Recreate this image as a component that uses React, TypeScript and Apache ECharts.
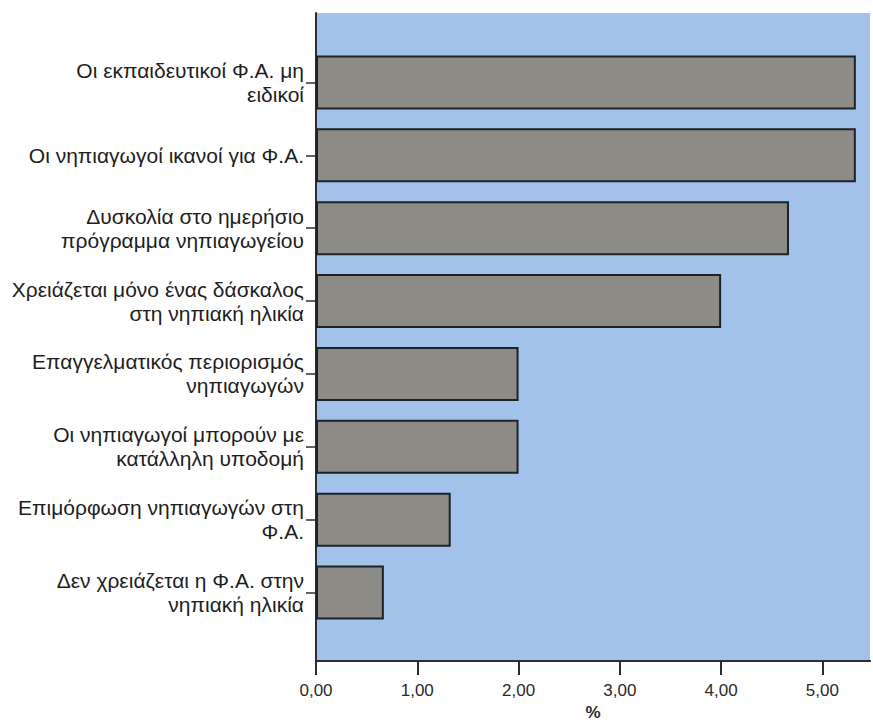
import React, { useEffect, useRef } from "react";
import * as echarts from "echarts";

const categories = [
  "Οι εκπαιδευτικοί Φ.Α. μη\nειδικοί",
  "Οι νηπιαγωγοί ικανοί για Φ.Α.",
  "Δυσκολία στο ημερήσιο\nπρόγραμμα νηπιαγωγείου",
  "Χρειάζεται μόνο ένας δάσκαλος\nστη νηπιακή ηλικία",
  "Επαγγελματικός περιορισμός\nνηπιαγωγών",
  "Οι νηπιαγωγοί μπορούν με\nκατάλληλη υποδομή",
  "Επιμόρφωση νηπιαγωγών στη\nΦ.Α.",
  "Δεν χρειάζεται η Φ.Α. στην\nνηπιακή ηλικία",
];
const values = [5.33, 5.33, 4.67, 4.0, 2.0, 2.0, 1.33, 0.67];
const axisName = "%";

const FONT = "'Liberation Sans', Arial, sans-serif";

export default function App() {
  const ref = useRef<HTMLDivElement>(null);
  useEffect(() => {
    document.body.style.margin = "0";
    const chart = echarts.init(ref.current!, null, { renderer: "svg" });
    chart.setOption({
      animation: false,
      backgroundColor: "#ffffff",
      grid: [
        { left: 316, right: 3, top: 46, bottom: 92, show: false, outerBoundsMode: "none", containLabel: false },
        {
          left: 316, right: 3, top: 13, bottom: 60, show: true, outerBoundsMode: "none", containLabel: false,
          backgroundColor: "#a3c2ea", borderWidth: 0, z: 0,
        },
      ],
      xAxis: [
        {
          type: "value", gridIndex: 0, min: 0, max: 5.47, interval: 1,
          offset: 32,
          position: "bottom",
          axisLine: { show: true, onZero: false, lineStyle: { color: "#2a2e33", width: 2 } },
          axisTick: { show: true, length: 14, lineStyle: { color: "#2a2e33", width: 2 } },
          splitLine: { show: false },
          axisLabel: {
            margin: 21, color: "#2a2a2a", fontFamily: FONT, fontSize: 17,
            showMaxLabel: false,
            formatter: (v: number) => v.toFixed(2).replace(".", ","),
          },
          name: axisName, nameLocation: "middle", nameGap: 43, nameMoveOverlap: false,
          nameTextStyle: { color: "#2a2a2a", fontFamily: FONT, fontSize: 17, fontWeight: "bold", verticalAlign: "top" },
        },
        {
          type: "value", gridIndex: 1, position: "top", min: 0, max: 1,
          axisLine: { show: true, lineStyle: { color: "#2a2e33", width: 2 } },
          axisTick: { show: false }, axisLabel: { show: false }, splitLine: { show: false },
        },
      ],
      yAxis: [
        {
          type: "category", gridIndex: 0, data: categories, inverse: true,
          axisLine: { show: false },
          axisTick: { show: true, length: 10, alignWithLabel: true, lineStyle: { color: "#2a2e33", width: 1.5 } },
          axisLabel: {
            margin: 12, color: "#1e1e1e", fontFamily: FONT, fontSize: 21, lineHeight: 24, align: "right",
          },
        },
        {
          type: "value", gridIndex: 1, min: 0, max: 1,
          axisLine: { show: true, lineStyle: { color: "#2a2e33", width: 2 } },
          axisTick: { show: false }, axisLabel: { show: false }, splitLine: { show: false },
        },
      ],
      series: [
        {
          type: "bar", xAxisIndex: 0, yAxisIndex: 0, data: values, barWidth: 54, z: 3,
          itemStyle: { color: "#8d8b85", borderColor: "#1c2228", borderWidth: 2 },
        },
      ],
    });
    return () => chart.dispose();
  }, []);
  return <div ref={ref} style={{ width: 873, height: 721 }} />;
}
